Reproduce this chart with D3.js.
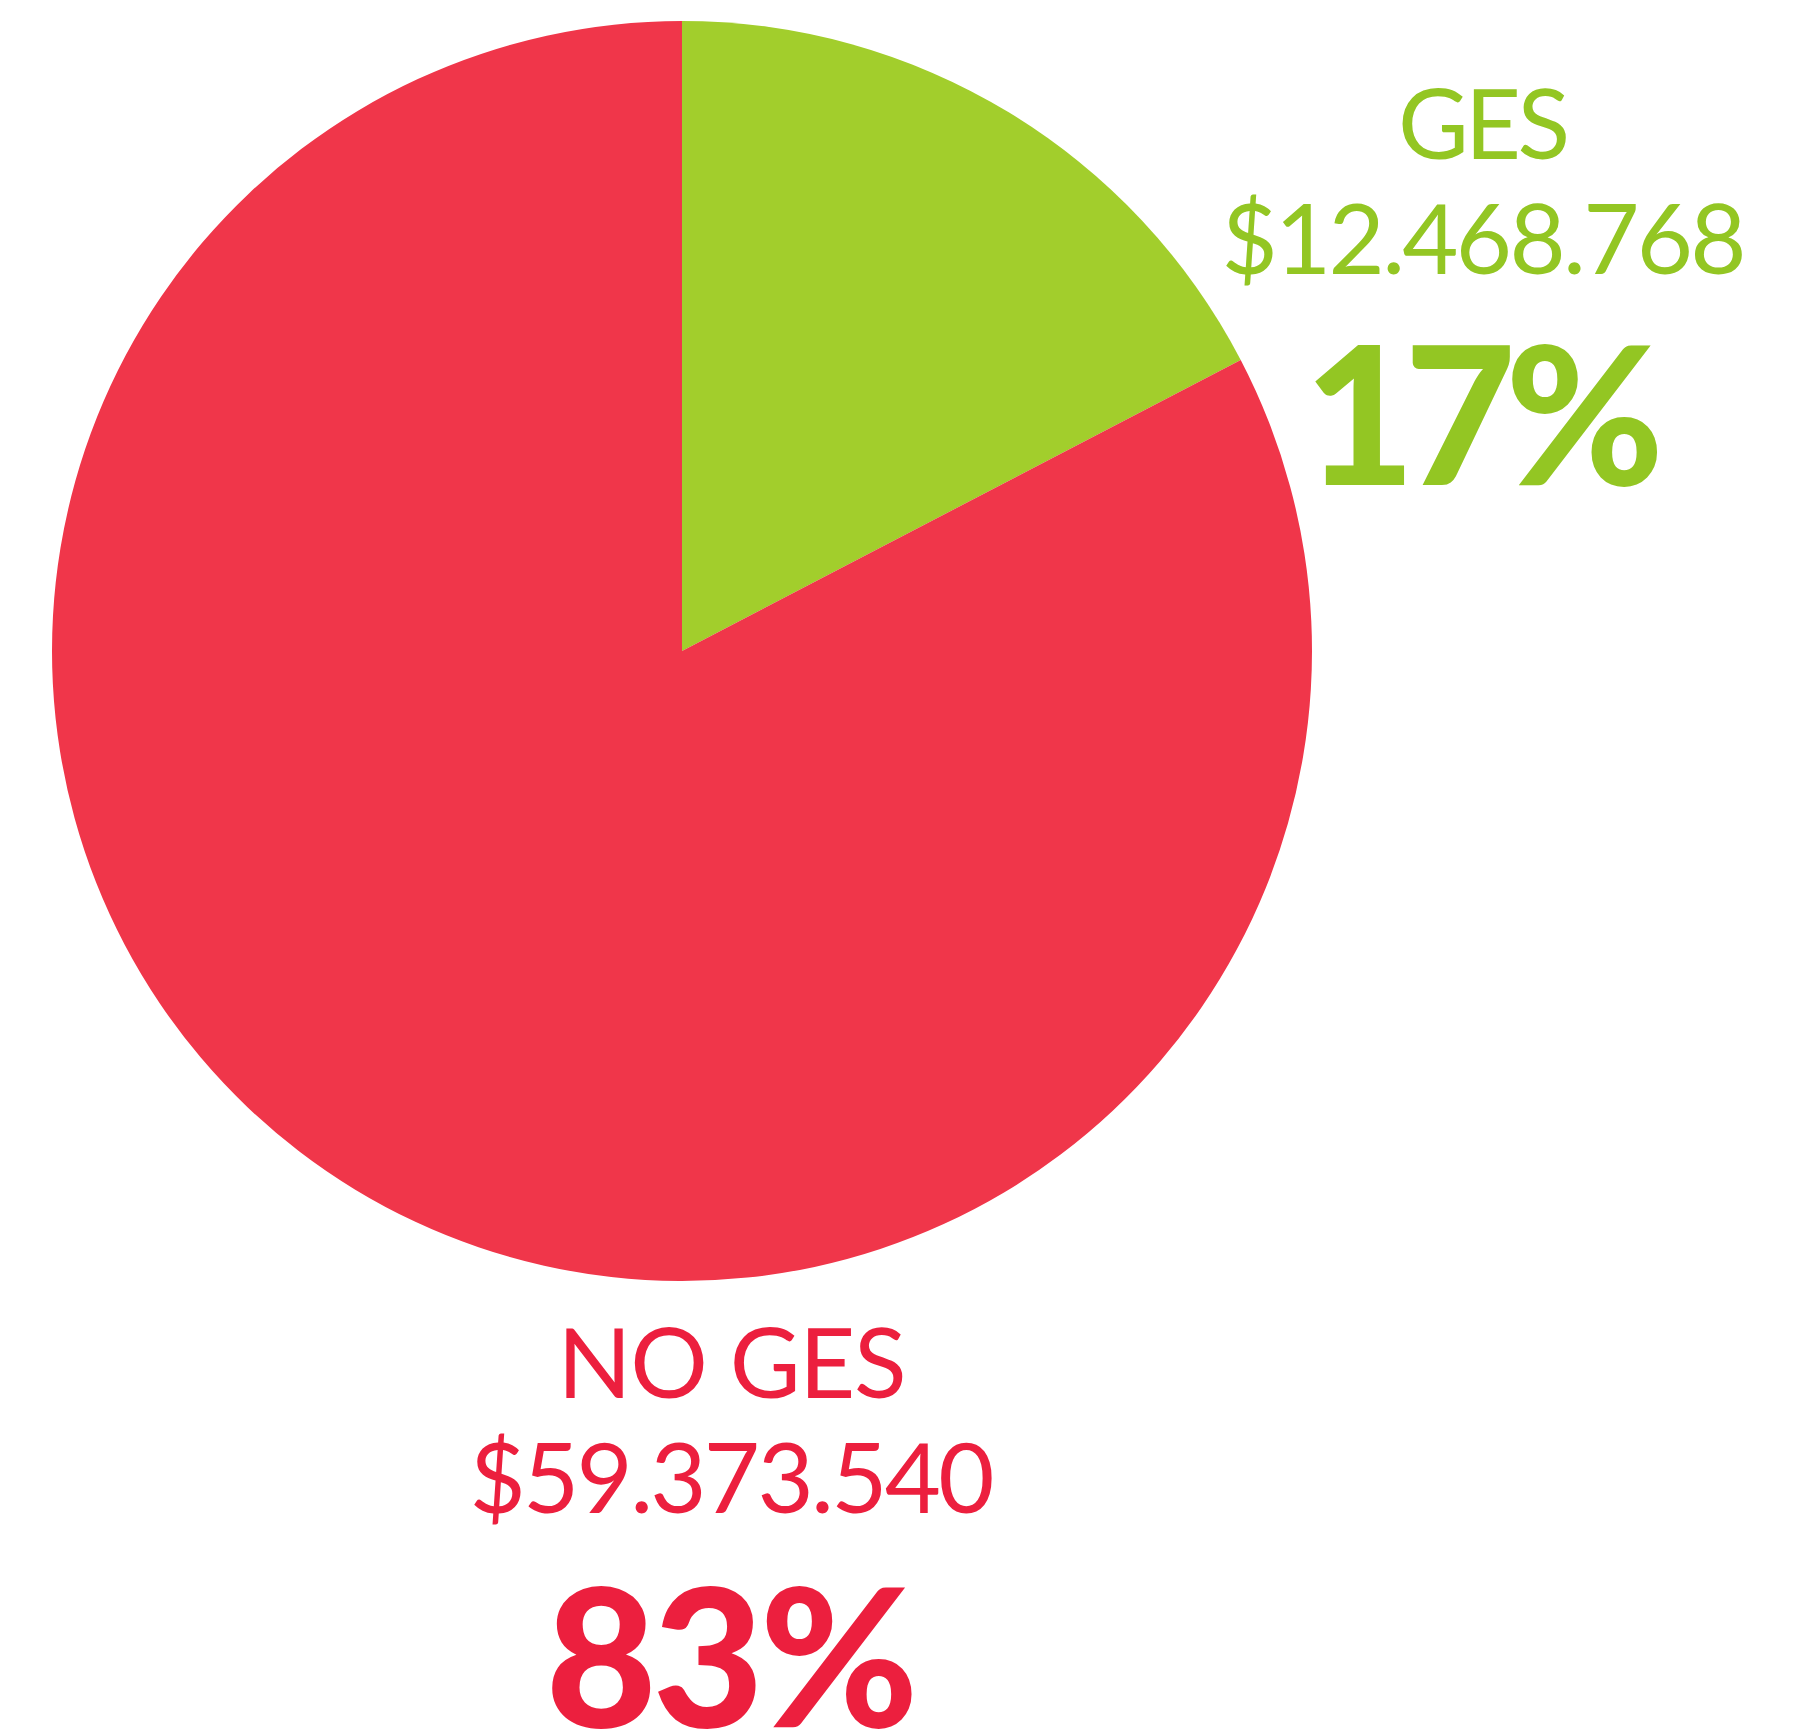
<!DOCTYPE html>
<html><head><meta charset="utf-8">
<script src="https://cdn.jsdelivr.net/npm/d3@7"></script>
<style>html,body{margin:0;padding:0;background:#fff;overflow:hidden}</style>
</head><body>
<svg id="c" width="1794" height="1730"></svg>
<script>
const categories = ["GES", "NO GES"];
const values = [12468768, 59373540];
const amountLabels = ["$12.468.768", "$59.373.540"];
const percentLabels = ["17%", "83%"];
const sliceColors = ["#A2CE2C", "#F0364A"];
const textColors = ["#93C623", "#EC1F3E"];

const svg = d3.select("#c");
const cx = 682, cy = 651, r = 630;
const pie = d3.pie().sort(null).value(d => d)(values);
const arc = d3.arc().innerRadius(0).outerRadius(r);
svg.append("g").attr("transform", `translate(${cx},${cy})`)
  .selectAll("path").data(pie).join("path")
  .attr("d", arc).attr("fill", (d, i) => sliceColors[i]);

const font = "Lato, 'Open Sans', sans-serif";
const labelPos = [
  {x: 1484, y1: 159, y2: 274, y3: 485, w1: 172, w2: 525, w3: 360},
  {x: 732, y1: 1398, y2: 1513, y3: 1727, w1: 349, w2: 525, w3: 373}
];
const g = svg.append("g");
categories.forEach((c, i) => {
  const p = labelPos[i];
  const rows = [
    {t: c, y: p.y1, s: 97, w: 400, len: p.w1},
    {t: amountLabels[i], y: p.y2, s: 97, w: 400, len: p.w2},
    {t: percentLabels[i], y: p.y3, s: 192, w: 900, len: p.w3}
  ];
  rows.forEach(rw => {
    g.append("text").attr("x", p.x).attr("y", rw.y)
      .attr("text-anchor", "middle")
      .attr("font-family", font).attr("font-size", rw.s).attr("font-weight", rw.w)
      .attr("fill", textColors[i])
      .attr("textLength", rw.len).attr("lengthAdjust", "spacing")
      .text(rw.t);
  });
});
</script>
</body></html>
